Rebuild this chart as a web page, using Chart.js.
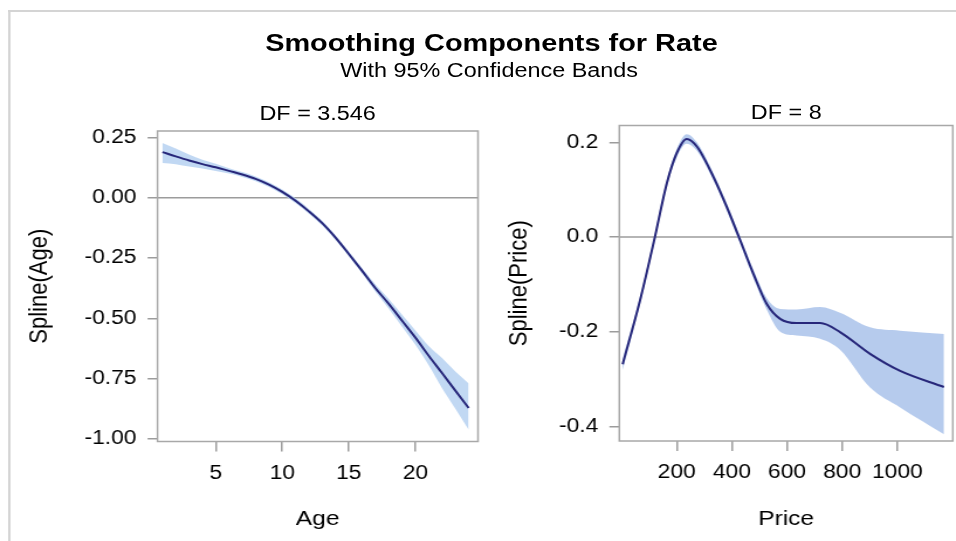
<!DOCTYPE html>
<html><head><meta charset="utf-8">
<script src="https://cdn.jsdelivr.net/npm/chart.js@4/dist/chart.umd.min.js"></script>
<style>
html,body{margin:0;padding:0;background:#fff;overflow:hidden;width:956px;height:541px}
#stage{position:absolute;left:0;top:0;width:817px;height:541px;transform:scaleX(1.1701);transform-origin:0 0;font-family:'Liberation Sans',Arial,sans-serif;color:#000}
.t{position:absolute;white-space:nowrap;line-height:1;transform:translateX(-50%)}
#frame{position:absolute;left:7px;top:10px;width:820px;height:540px;border-top:2px solid #d4d4d4;border-left:2px solid #d4d4d4}
canvas{position:absolute;top:0}
</style></head><body>
<div id="stage">
<div id="frame"></div>
<div class="t" style="left:420px;top:30.8px;font-size:24.7px;font-weight:bold">Smoothing Components for Rate</div>
<div class="t" style="left:418px;top:59.8px;font-size:20px">With 95% Confidence Bands</div>
<div class="t" style="left:271.5px;top:103px;font-size:20px">DF = 3.546</div>
<div class="t" style="left:672px;top:101.6px;font-size:20px">DF = 8</div>
<canvas id="c1" width="415" height="541" style="left:0;width:415px;height:541px"></canvas>
<canvas id="c2" width="402" height="541" style="left:415px;width:402px;height:541px"></canvas>
</div>
<script>
// ---- Age component ----
const ageX     = [1, 2, 3, 4, 5, 6, 7, 8, 9, 10, 11, 12, 13, 14, 15, 16, 17, 18, 19, 20, 21, 22, 23, 24];
const ageFit   = [0.19, 0.172, 0.155, 0.14, 0.127, 0.112, 0.097, 0.079, 0.055, 0.025, -0.012, -0.056, -0.105, -0.165, -0.233, -0.303, -0.375, -0.44, -0.51, -0.58, -0.655, -0.727, -0.80, -0.872];
const ageLower = [0.145, 0.14, 0.13, 0.122, 0.112, 0.101, 0.087, 0.069, 0.045, 0.015, -0.022, -0.066, -0.115, -0.175, -0.243, -0.314, -0.39, -0.46, -0.535, -0.61, -0.695, -0.79, -0.875, -0.962];
const ageUpper = [0.228, 0.205, 0.18, 0.158, 0.142, 0.123, 0.107, 0.089, 0.065, 0.035, -0.002, -0.046, -0.095, -0.155, -0.223, -0.292, -0.36, -0.42, -0.485, -0.55, -0.615, -0.665, -0.72, -0.77];
const ageXTicks = [5, 10, 15, 20];
const ageYTicks = [0.25, 0, -0.25, -0.5, -0.75, -1.0];

// ---- Price component ----
const priceX     = [4, 67, 121, 164, 200, 236, 273, 333, 381, 430, 478, 526, 575, 635, 720, 792, 901, 1010, 1169];
const priceFit   = [-0.269, -0.134, 0.0, 0.113, 0.177, 0.207, 0.191, 0.127, 0.064, -0.007, -0.078, -0.141, -0.173, -0.182, -0.182, -0.201, -0.247, -0.283, -0.317];
const priceLower = [-0.281, -0.142, -0.008, 0.105, 0.168, 0.197, 0.182, 0.119, 0.056, -0.015, -0.087, -0.153, -0.200, -0.208, -0.215, -0.238, -0.318, -0.360, -0.417];
const priceUpper = [-0.257, -0.126, 0.008, 0.121, 0.186, 0.217, 0.200, 0.135, 0.072, 0.001, -0.069, -0.129, -0.152, -0.153, -0.148, -0.160, -0.191, -0.198, -0.205];
const priceXTicks = [200, 400, 600, 800, 1000];
const priceYTicks = [0.2, 0, -0.2, -0.4];

const FONT = "'Liberation Sans', Arial, sans-serif";
function pts(xs, ys){ return xs.map((x, i) => ({x: x, y: ys[i]})); }

const framePlugin = {
  id: 'frameAndZero',
  beforeDatasetsDraw(chart){
    const {ctx, chartArea: a} = chart;
    const y0 = chart.scales.y.getPixelForValue(0);
    ctx.save();
    ctx.strokeStyle = '#9c9c9c'; ctx.lineWidth = 1.5;
    ctx.beginPath(); ctx.moveTo(a.left, y0); ctx.lineTo(a.right, y0); ctx.stroke();
    ctx.restore();
  },
  afterDraw(chart){
    const {ctx, chartArea: a} = chart;
    ctx.save();
    ctx.strokeStyle = '#a8a8a8'; ctx.lineWidth = 1.5;
    ctx.strokeRect(a.left, a.top, a.right - a.left, a.bottom - a.top);
    ctx.restore();
  }
};

function makeChart(id, c){
  return new Chart(document.getElementById(id), {
    type: 'line',
    data: { datasets: [
      {data: pts(c.x, c.fit), borderColor: '#27277a', borderWidth: 2, pointRadius: 0, fill: false, cubicInterpolationMode: 'monotone', order: 0},
      {data: pts(c.x, c.lo), borderWidth: 0, borderColor: 'rgba(0,0,0,0)', pointRadius: 0, fill: false, cubicInterpolationMode: 'monotone', order: 2},
      {data: pts(c.x, c.hi), borderWidth: 0, borderColor: 'rgba(0,0,0,0)', pointRadius: 0, fill: '-1', backgroundColor: c.band, cubicInterpolationMode: 'monotone', order: 1}
    ]},
    options: {
      responsive: false, animation: false, events: [],
      layout: {padding: {left: 5, right: c.padR, top: c.top, bottom: 0}},
      plugins: {legend: {display: false}, tooltip: {enabled: false}, title: {display: false}},
      scales: {
        x: {
          type: 'linear', min: c.xmin, max: c.xmax,
          border: {display: false},
          grid: {drawOnChartArea: false, drawTicks: true, tickLength: 10, color: '#9c9c9c', lineWidth: 1.5},
          ticks: {font: {size: 19.5, family: FONT}, color: '#000', padding: 10, maxRotation: 0, autoSkip: false, callback: v => String(v)},
          afterBuildTicks: s => { s.ticks = c.xticks.map(v => ({value: v})); },
          afterFit: s => { s.height = 541 - c.bottom; },
          title: {display: true, text: c.xtitle, font: {size: 21, family: FONT}, color: '#000', padding: {top: 0, bottom: 9.4}}
        },
        y: {
          type: 'linear', min: c.ymin, max: c.ymax,
          border: {display: false},
          grid: {drawOnChartArea: false, drawTicks: true, tickLength: 8.5, color: '#9c9c9c', lineWidth: 1.5},
          ticks: {font: {size: 19.5, family: FONT}, color: '#000', padding: 9.5, autoSkip: false, callback: v => Number(v).toFixed(c.dec)},
          afterBuildTicks: s => { s.ticks = c.yticks.map(v => ({value: v})); },
          afterFit: s => { s.width = c.yw; },
          title: {display: true, text: c.ytitle, font: {size: 22, family: FONT}, color: '#000', padding: {top: c.ytp, bottom: 0}}
        }
      }
    },
    plugins: [framePlugin]
  });
}

makeChart('c1', {
  x: ageX, fit: ageFit, lo: ageLower, hi: ageUpper, band: 'rgba(186,212,242,0.9)',
  xmin: 0.63, xmax: 24.7, ymin: -1.011, ymax: 0.2775,
  xticks: ageXTicks, yticks: ageYTicks, dec: 2,
  xtitle: 'Age', ytitle: 'Spline(Age)',
  top: 131, bottom: 441.5, yw: 129.6, padR: 6.5, ytp: 16
});
makeChart('c2', {
  x: priceX, fit: priceFit, lo: priceLower, hi: priceUpper, band: 'rgba(178,200,236,0.95)',
  xmin: -8, xmax: 1201, ymin: -0.431, ymax: 0.2354,
  xticks: priceXTicks, yticks: priceYTicks, dec: 1,
  xtitle: 'Price', ytitle: 'Spline(Price)',
  top: 125.5, bottom: 441, yw: 109.3, padR: 2.7, ytp: 10.4
});
</script>
</body></html>
